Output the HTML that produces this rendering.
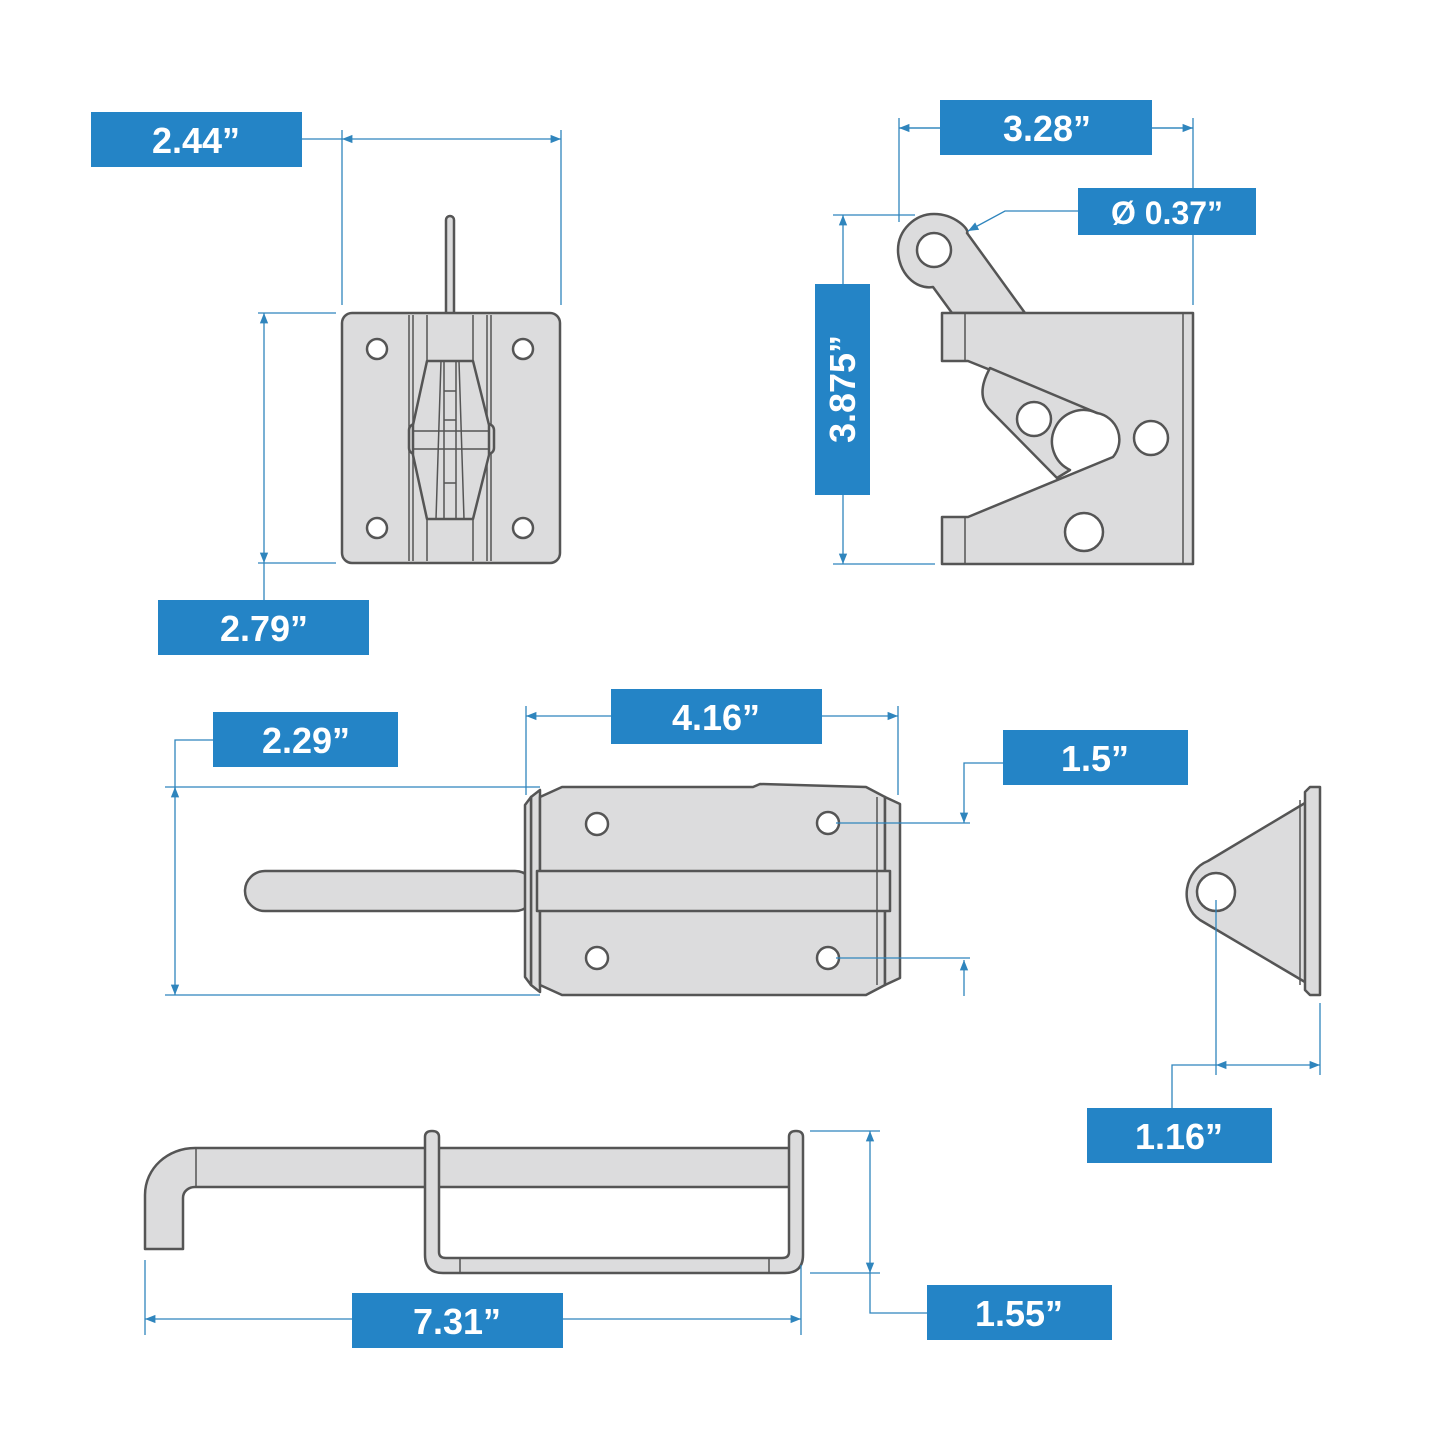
<!DOCTYPE html>
<html><head><meta charset="utf-8"><style>
html,body{margin:0;padding:0;background:#fff}
svg{display:block}
.p{fill:#dcdcdd;stroke:#555;stroke-width:2.5;stroke-linejoin:round}
.h{fill:#fff;stroke:#555;stroke-width:2.5}
.l{fill:none;stroke:#555;stroke-width:1.5}
.d{fill:none;stroke:#2f85bd;stroke-width:1.3}
.b{fill:#2484c6}
.t{fill:#fff;font-family:"Liberation Sans",sans-serif;font-weight:bold;font-size:36px;text-anchor:middle}
</style></head><body>
<svg width="1445" height="1445" viewBox="0 0 1445 1445" xmlns="http://www.w3.org/2000/svg">
<defs><marker id="a" viewBox="0 0 10 10" refX="10" refY="5" markerWidth="8" markerHeight="8" orient="auto-start-reverse"><path d="M0,1 L10,5 L0,9 z" fill="#2f85bd"/></marker></defs>

<!-- TOP LEFT -->
<rect class="p" x="446" y="216" width="8" height="100" rx="4"/>
<rect class="p" x="342" y="313" width="218" height="250" rx="10"/>
<g class="l"><path d="M409,315V561M413,315V561M427,315V561M473,315V561M487,315V561M491,315V561"/></g>
<circle class="h" cx="377" cy="349" r="10"/><circle class="h" cx="523" cy="349" r="10"/>
<circle class="h" cx="377" cy="528" r="10"/><circle class="h" cx="523" cy="528" r="10"/>
<rect class="p" x="409" y="424" width="85" height="30" rx="6"/>
<path class="p" d="M427,361 H473 L489,425 V455 L473,519 H427 L413,455 V425 Z"/>
<g class="l"><path d="M441,361 L436,519 M459,361 L464,519 M444,361V519M456,361V519 M413,431H489 M413,449H489 M444,391H456 M444,420H456 M444,483H456"/></g>

<path class="d" d="M302,139H342M342,130V305M561,130V305"/>
<path class="d" d="M342,139H561" marker-start="url(#a)" marker-end="url(#a)"/>
<rect class="b" x="91" y="112" width="211" height="55"/><text class="t" x="196" y="153">2.44”</text>
<path class="d" d="M258,313H336M258,563H336M264,563V600"/>
<path class="d" d="M264,313V563" marker-start="url(#a)" marker-end="url(#a)"/>
<rect class="b" x="158" y="600" width="211" height="55"/><text class="t" x="264" y="641">2.79”</text>

<!-- TOP RIGHT -->
<path class="p" d="M933,287 C915,290 898,272 898,250 C898,230 915,214 934,214 C955,214 970,230 967,233 L1025,313 H952 Z"/>
<circle class="h" cx="934" cy="250" r="17"/>
<path class="p" d="M942,313 H1193 V564 H942 V517 H968 L1113,457 A27,27 0 0 0 1097,413 L968,361 H942 Z"/>
<path class="p" d="M990,368 L1097,413 A27,27 0 0 0 1070,470 L1057,478 L990,410 Q975,395 990,368 Z"/>
<path class="l" d="M965,313V361M965,517V564M1183,313V564"/>
<circle class="h" cx="1034" cy="419" r="17"/><circle class="h" cx="1151" cy="438" r="17"/><circle class="h" cx="1084" cy="532" r="19"/>

<path class="d" d="M899,118V222M1193,118V305M1152,128H1193M899,128H940"/>
<path class="d" d="M899,128H940" marker-start="url(#a)"/><path class="d" d="M1152,128H1193" marker-end="url(#a)"/>
<rect class="b" x="940" y="100" width="212" height="55"/><text class="t" x="1047" y="141">3.28”</text>
<path class="d" d="M1078,211H1005L968,231" marker-end="url(#a)"/>
<rect class="b" x="1078" y="188" width="178" height="47"/><text class="t" x="1167" y="224" style="font-size:32px">Ø 0.37”</text>
<path class="d" d="M833,215H915M833,564H935"/>
<path class="d" d="M843,284V215" marker-end="url(#a)"/><path class="d" d="M843,495V564" marker-end="url(#a)"/>
<rect class="b" x="815" y="284" width="55" height="211"/><text class="t" transform="translate(855,389) rotate(-90)">3.875”</text>

<!-- MIDDLE BOLT -->
<rect class="p" x="245" y="871" width="290" height="40" rx="20"/>
<path class="p" d="M531,797 L540,790 V992 L531,985 Z"/>
<path class="p" d="M525,805 L531,797 V985 L525,977 Z"/>
<path class="p" d="M562,787 H753 L760,784 L866,787 L885,797 V985 L866,995 H562 L540,985 V797 Z"/>
<path class="p" d="M885,797 L900,804 V978 L885,985 Z"/>
<rect class="p" x="537" y="871" width="353" height="40"/>
<path class="l" d="M877,797V985"/>
<circle class="h" cx="597" cy="824" r="11"/><circle class="h" cx="828" cy="823" r="11"/>
<circle class="h" cx="597" cy="958" r="11"/><circle class="h" cx="828" cy="958" r="11"/>

<path class="d" d="M526,706V795M898,706V795"/>
<path class="d" d="M611,716H526" marker-end="url(#a)"/><path class="d" d="M822,716H898" marker-end="url(#a)"/>
<rect class="b" x="611" y="689" width="211" height="55"/><text class="t" x="716" y="730">4.16”</text>
<path class="d" d="M213,740H175V790M165,787H540M165,995H540"/>
<path class="d" d="M175,787V995" marker-start="url(#a)" marker-end="url(#a)"/>
<rect class="b" x="213" y="712" width="185" height="55"/><text class="t" x="306" y="753">2.29”</text>
<path class="d" d="M1003,763H964V823" marker-end="url(#a)"/>
<path class="d" d="M836,823H970M836,958H970"/>
<path class="d" d="M964,996V960" marker-end="url(#a)"/>
<rect class="b" x="1003" y="730" width="185" height="55"/><text class="t" x="1095" y="771">1.5”</text>

<!-- RIGHT BRACKET -->
<path class="p" d="M1310,800 L1208,861 C1185,870 1178,905 1200,920 L1310,985 Z"/>
<path class="p" d="M1310,787 H1320 V995 H1310 L1305,990 V792 Z"/>
<path class="l" d="M1300,800V985"/>
<circle class="h" cx="1216" cy="892" r="19"/>
<path class="d" d="M1216,900V1075M1320,1003V1075M1172,1108V1065H1216"/>
<path class="d" d="M1216,1065H1320" marker-start="url(#a)" marker-end="url(#a)"/>
<rect class="b" x="1087" y="1108" width="185" height="55"/><text class="t" x="1179" y="1149">1.16”</text>

<!-- BOTTOM HOOK -->
<path class="p" d="M195,1148 H790 V1187 H195 C189,1187 183,1191 183,1198 V1249 H145 V1195 C145,1168 168,1148 195,1148 Z"/>
<path class="p" d="M425,1137 Q425,1131 432,1131 Q439,1131 439,1137 V1252 Q439,1258 446,1258 H782 Q789,1258 789,1252 V1137 Q789,1131 796,1131 Q803,1131 803,1137 V1255 Q803,1273 785,1273 H443 Q425,1273 425,1255 Z"/>
<path class="l" d="M460,1258V1273M769,1258V1273M196,1148V1187"/>
<path class="d" d="M810,1131H880M810,1273H880M870,1273V1313H927"/>
<path class="d" d="M870,1200V1131" marker-end="url(#a)"/><path class="d" d="M870,1200V1273" marker-end="url(#a)"/>
<rect class="b" x="927" y="1285" width="185" height="55"/><text class="t" x="1019" y="1326">1.55”</text>
<path class="d" d="M145,1260V1335M801,1265V1335"/>
<path class="d" d="M352,1319H145" marker-end="url(#a)"/><path class="d" d="M563,1319H801" marker-end="url(#a)"/>
<rect class="b" x="352" y="1293" width="211" height="55"/><text class="t" x="457" y="1334">7.31”</text>
</svg>
</body></html>
